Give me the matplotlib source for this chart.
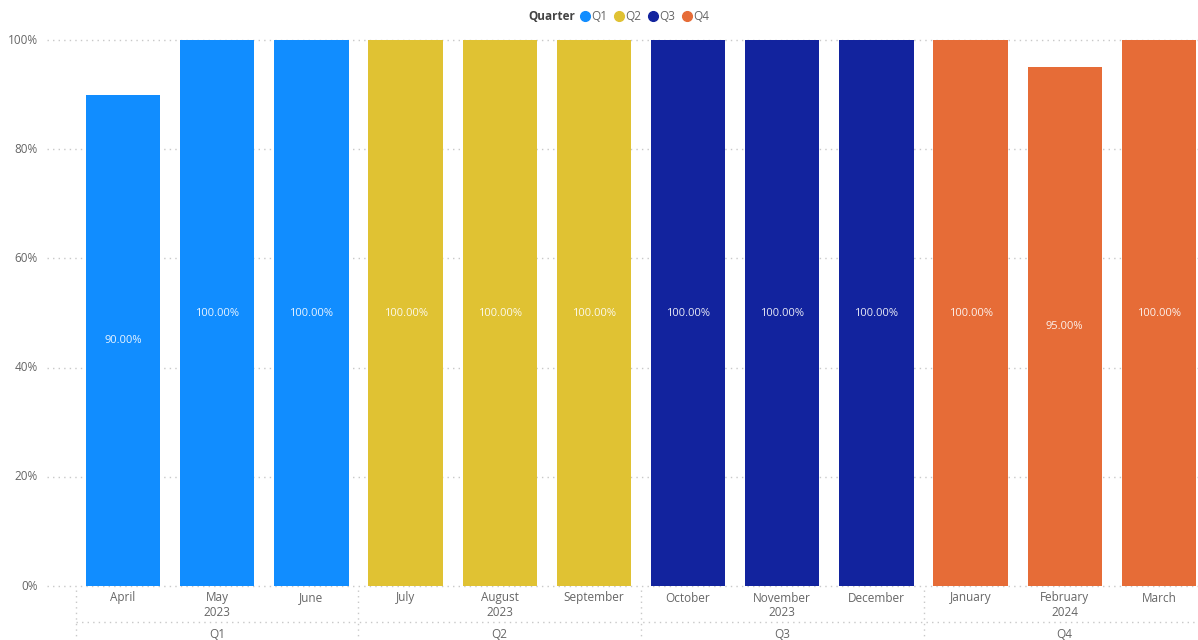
import matplotlib
matplotlib.use("Agg")
import matplotlib.pyplot as plt
import matplotlib.transforms as mtransforms
from matplotlib.lines import Line2D

plt.rcParams['font.family'] = ['Open Sans', 'DejaVu Sans']

months = ["April", "May", "June", "July", "August", "September",
          "October", "November", "December", "January", "February", "March"]
years = ["2023", "2023", "2023", "2024"]
quarters = ["Q1", "Q2", "Q3", "Q4"]
values = [90, 100, 100, 100, 100, 100, 100, 100, 100, 100, 95, 100]
quarter_colors = {"Q1": "#118DFF", "Q2": "#E0C233", "Q3": "#12239E", "Q4": "#E66C37"}
yticks = [0, 20, 40, 60, 80, 100]

W, H = 1198, 640
fig = plt.figure(figsize=(W / 100, H / 100), dpi=100)
ax = fig.add_axes([76 / W, 54 / H, 1130 / W, 546 / H])

x = list(range(len(months)))
bar_q = [quarters[i // 3] for i in x]
colors = [quarter_colors[q] for q in bar_q]
ax.bar(x, values, width=0.79, color=colors, zorder=3)

for xi, v in zip(x, values):
    ax.text(xi, v / 2, f"{v:.2f}%", ha="center", va="center",
            color="white", alpha=0.9, fontsize=8, zorder=4)

ax.set_xlim(-0.5, len(months) - 0.5)
ax.set_ylim(0, 100)
for s in ax.spines.values():
    s.set_visible(False)
ax.set_xticks([])
ax.set_yticks([])

grey = "#666666"
# dotted horizontal gridlines and y tick labels
trans = mtransforms.blended_transform_factory(ax.transAxes, ax.transData)
for t in yticks:
    ax.plot([-0.026, 1.0], [t, t], transform=trans, color="#c8c8c8",
            lw=1, ls=(0, (1, 3)), clip_on=False, zorder=1)
    ax.text(-0.034, t, f"{t}%", transform=trans, ha="right", va="center",
            color=grey, fontsize=8.5)

# hierarchical x-axis labels: month / year / quarter
tx = mtransforms.blended_transform_factory(ax.transData, fig.transFigure)
def fy(py):
    return 1 - py / H

for xi, m in zip(x, months):
    ax.text(xi, fy(598), m, transform=tx, ha="center", va="center",
            color=grey, fontsize=8.5)
for qi, (q, yr) in enumerate(zip(quarters, years)):
    mid = qi * 3 + 1
    ax.text(mid, fy(613), yr, transform=tx, ha="center", va="center",
            color=grey, fontsize=8.5)
    ax.text(mid, fy(634), q, transform=tx, ha="center", va="center",
            color=grey, fontsize=8.5)

for b in [-0.5, 2.5, 5.5, 8.5, 11.5]:
    ax.plot([b, b], [fy(590), fy(640)], transform=tx, color="#c8c8c8",
            lw=1, ls=(0, (1, 3)), clip_on=False)
ax.plot([-0.5, 11.5], [fy(622), fy(622)], transform=tx, color="#c8c8c8",
        lw=1, ls=(0, (1, 3)), clip_on=False)

# legend along the top
fig.text(528 / W, fy(17), "Quarter", ha="left", va="center",
         color="#444444", fontsize=8.5, fontweight="bold")
lx = 585
for q in quarters:
    fig.add_artist(Line2D([lx / W], [fy(16)], marker="o", markersize=7,
                          color=quarter_colors[q], transform=fig.transFigure))
    fig.text((lx + 6) / W, fy(17), q, ha="left", va="center",
             color=grey, fontsize=8.5)
    lx += 34

fig.savefig("out.png", dpi=100)
